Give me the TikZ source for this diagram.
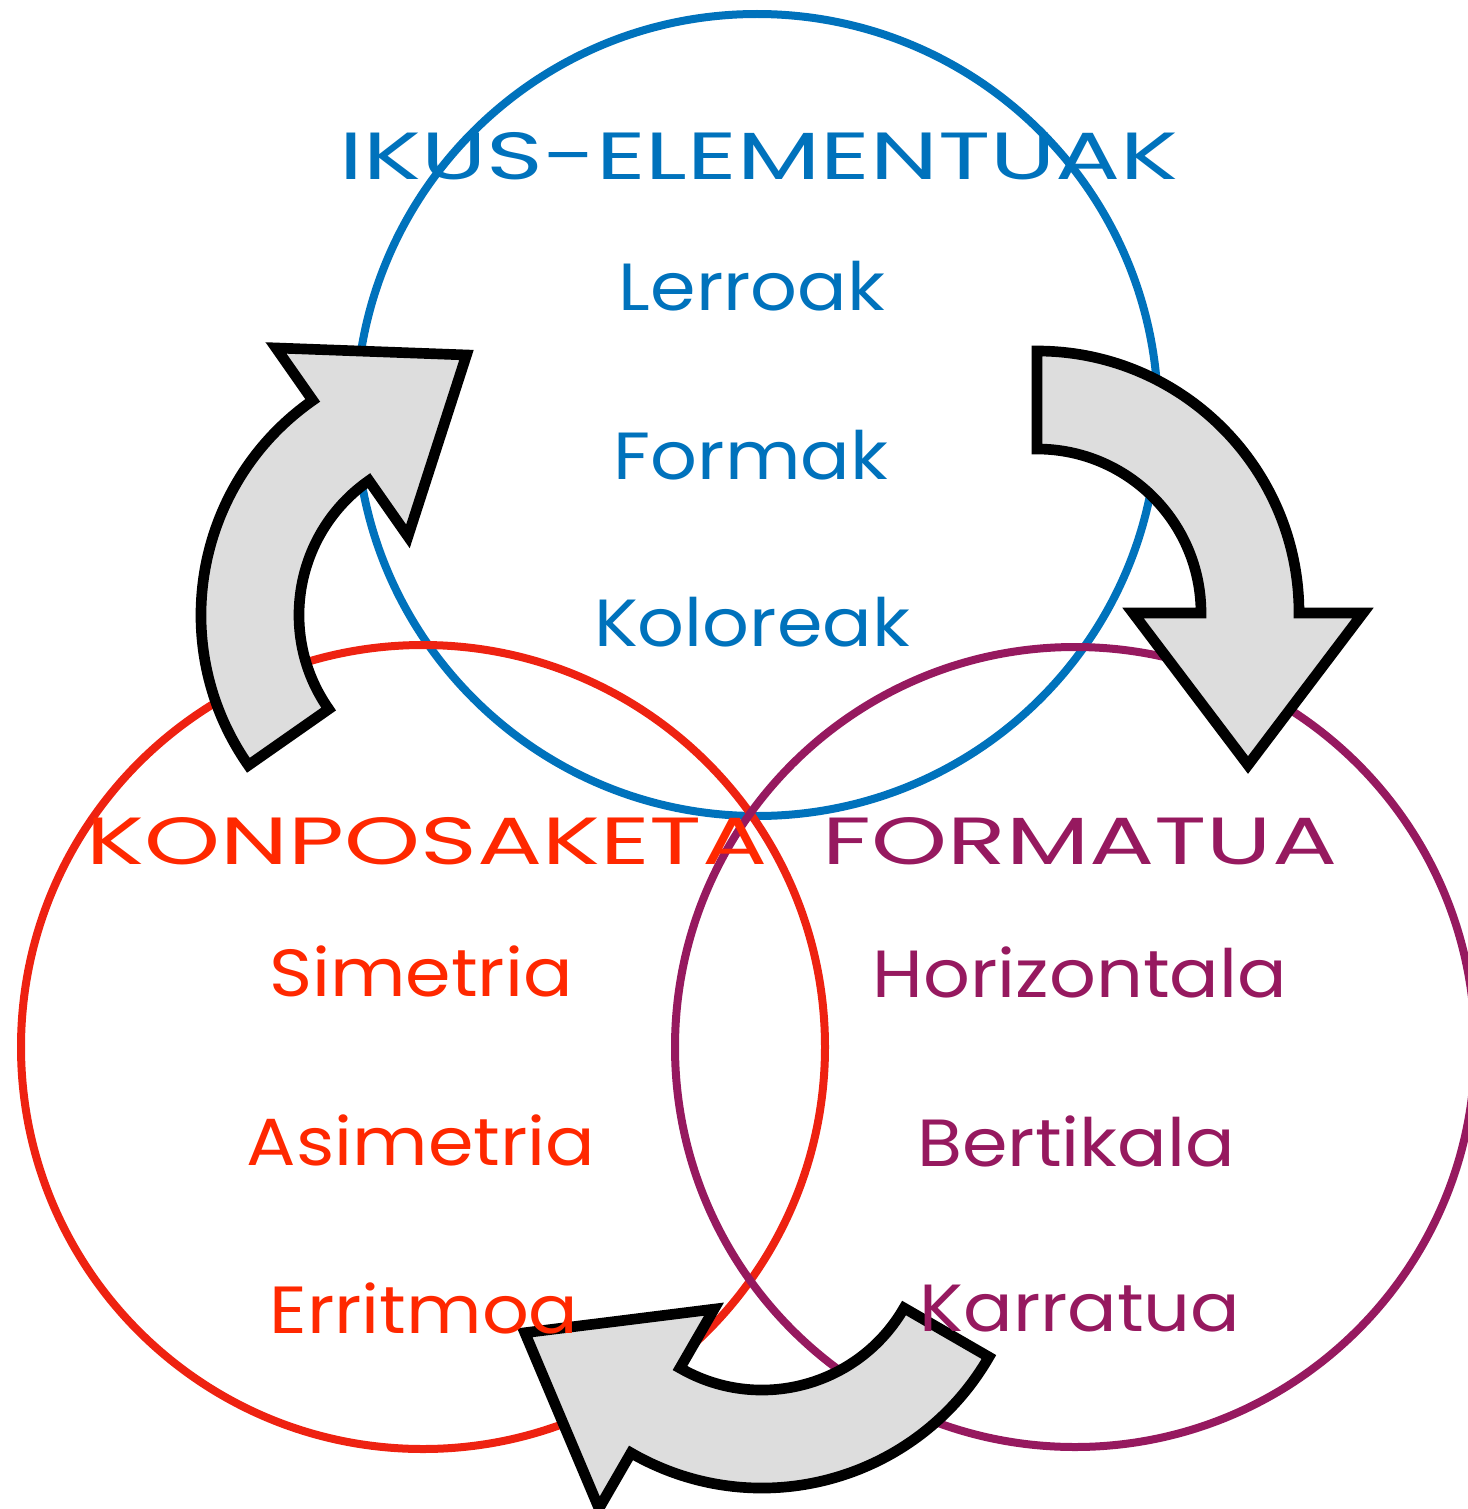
\documentclass[tikz,border=0pt]{standalone}
\usepackage{fontspec}
\setmainfont{Poppins}
\newfontfamily\headfont[FakeStretch=1.45]{Poppins}
\newfontfamily\wordfont[FakeStretch=1.1]{Poppins}
\usetikzlibrary{calc}
\definecolor{ikusblue}{RGB}{0,114,188}
\definecolor{konred}{RGB}{238,34,17}
\definecolor{kontext}{RGB}{255,40,0}
\definecolor{formpurple}{RGB}{150,25,95}
\definecolor{arrowgray}{RGB}{221,221,221}
\tikzset{every picture/.style={line width=0.75pt}}

\begin{document}
\begin{tikzpicture}[x=0.75pt,y=0.75pt,yscale=-1,xscale=1,
  ring/.style={line width=6pt},
  bigarrow/.style={draw=black,fill=arrowgray,line width=8pt,line join=miter},
  head/.style={anchor=base,inner sep=0.75pt,font=\headfont\fontsize{50}{54}\selectfont},
  lbl/.style={anchor=base,inner sep=0.75pt,font=\wordfont\fontsize{50}{54}\selectfont}]
\useasboundingbox (0,0) rectangle (1467,1509);

%Shape: Circle
\draw [ring,draw=ikusblue] (757,415) circle (401);
%Shape: Circle
\draw [ring,draw=konred] (423,1047) circle (402);
%Shape: Circle
\draw [ring,draw=formpurple] (1075,1047) circle (400);

%Curved arrows
\coordinate (c1) at (463,615);
\coordinate (c2) at (1037,613);
\coordinate (c3) at (762,1226);
%Shape: Curved Arrow (up)
\draw [bigarrow] ($(c1)+(145:262)$) arc (145:235:262) -- ($(c1)+(235:326)$) -- ($(c1)+(235:211)+(325:152)$) -- ($(c1)+(235:96)$) -- ($(c1)+(235:164)$) arc (235:145:164) -- cycle ;
%Shape: Curved Arrow (down)
\draw [bigarrow] ($(c2)+(270:262)$) arc (270:360:262) -- ($(c2)+(0:326)$) -- ($(c2)+(0:211)+(90:152)$) -- ($(c2)+(0:96)$) -- ($(c2)+(0:164)$) arc (360:270:164) -- cycle ;
%Shape: Curved Arrow (left)
\draw [bigarrow] ($(c3)+(30:262)$) arc (30:120:262) -- ($(c3)+(120:326)$) -- ($(c3)+(120:211)+(210:152)$) -- ($(c3)+(120:96)$) -- ($(c3)+(120:164)$) arc (120:30:164) -- cycle ;

% Text Node
\draw (759,180) node [head,text=ikusblue] (ikus) {IKUS-ELEMENTUAK};
% Text Node
\draw (752,310) node [lbl,text=ikusblue] (lerroak) {Lerroak};
% Text Node
\draw (751,479) node [lbl,text=ikusblue] (formak) {Formak};
% Text Node
\draw (752,646) node [lbl,text=ikusblue] (koloreak) {Koloreak};
% Text Node
\draw (427,864) node [head,text=kontext] (konpo) {KONPOSAKETA};
% Text Node
\draw (421,996) node [lbl,text=kontext] (simetria) {Simetria};
% Text Node
\draw (421,1165) node [lbl,text=kontext] (asimetria) {Asimetria};
% Text Node
\draw (424,1333) node [lbl,text=kontext] (erritmoa) {Erritmoa};
% Text Node
\draw (1080,864) node [head,text=formpurple] (formatua) {FORMATUA};
% Text Node
\draw (1080,997) node [lbl,text=formpurple] (horizontala) {Horizontala};
% Text Node
\draw (1076,1166) node [lbl,text=formpurple] (bertikala) {Bertikala};
% Text Node
\draw (1080,1331) node [lbl,text=formpurple] (karratua) {Karratua};

\end{tikzpicture}
\end{document}
